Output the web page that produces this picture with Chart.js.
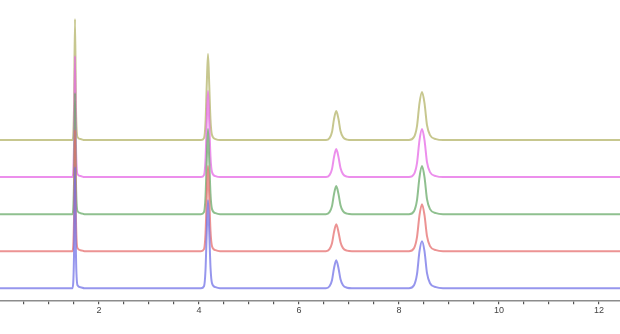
<!DOCTYPE html>
<html>
<head>
<meta charset="utf-8">
<script src="https://cdn.jsdelivr.net/npm/chart.js@4/dist/chart.umd.min.js"></script>
<style>
  html, body { margin: 0; padding: 0; background: #fff; }
  #chart { display: block; }
</style>
</head>
<body>
<canvas id="chart" width="620" height="334"></canvas>
<script>
// retention time (min), shared by all traces
const times = [
    0.02,
    1.47, 1.50, 1.52, 1.54, 1.57, 1.63, 1.71,
    4.04, 4.10, 4.13, 4.155, 4.18, 4.205, 4.23, 4.26, 4.33, 4.42,
    6.54, 6.61, 6.66, 6.70, 6.745, 6.79, 6.83, 6.88, 6.96, 7.06,
    8.20, 8.30, 8.36, 8.41, 8.46, 8.51, 8.56, 8.62, 8.74, 8.88,
    12.42
];

// signal of each trace above its own baseline
const trace1 = [0, 0, 32, 121, 32, 3, 1, 0, 0, 2, 18, 56, 88, 56, 21, 5, 1, 0, 0, 2, 8, 20, 28, 20, 9, 3, 0.5, 0, 0, 3, 14, 37, 47, 37, 15, 5, 1, 0, 0];
const trace2 = [0, 0, 31, 121, 31, 3, 1, 0, 0, 2, 17, 54, 85, 54, 20, 5, 1, 0, 0, 2, 8, 19, 27, 19, 9, 3, 0.5, 0, 0, 3, 14, 36, 47, 36, 15, 5, 1, 0, 0];
const trace3 = [0, 0, 31, 121, 31, 3, 1, 0, 0, 2, 17, 54, 85, 54, 20, 5, 1, 0, 0, 2, 8, 20, 28, 20, 9, 3, 0.5, 0, 0, 3, 14, 37, 48, 37, 15, 5, 1, 0, 0];
const trace4 = [0, 0, 31, 121, 31, 3, 1, 0, 0, 2, 17, 55, 86, 55, 20, 5, 1, 0, 0, 2, 8, 20, 28, 20, 9, 3, 0.5, 0, 0, 3, 14, 37, 48, 37, 15, 5, 1, 0, 0];
const trace5 = [0, 0, 31, 121, 31, 3, 1, 0, 0, 2, 17, 55, 86, 55, 20, 5, 1, 0, 0, 2, 8, 21, 29, 21, 9, 3, 0.5, 0, 0, 3, 14, 37, 48, 37, 15, 5, 1, 0, 0];

// vertical stacking offset of each trace
const offsets = [13, 50, 87, 124, 161];

// x axis ticks: minor every 0.5, labels on even numbers
const tickValues = [];
for (let t = 0.5; t <= 12; t += 0.5) tickValues.push(t);
const tickLabels = [2, 4, 6, 8, 10, 12];

const colors = [
    "rgba(110, 110, 230, 0.72)",  // blue
    "rgba(228, 105, 105, 0.72)",  // red
    "rgba(100, 168, 100, 0.72)",  // green
    "rgba(228, 100, 228, 0.72)",  // pink
    "rgba(178, 178, 100, 0.72)"   // olive
];

const traces = [trace1, trace2, trace3, trace4, trace5];

const datasets = traces.map((tr, i) => ({
    data: tr.map((v, j) => ({ x: times[j], y: v + offsets[i] })),
    borderColor: colors[i],
    borderWidth: 2,
    pointRadius: 0,
    cubicInterpolationMode: "monotone",
    fill: false
}));

new Chart(document.getElementById("chart").getContext("2d"), {
    type: "line",
    data: { datasets: datasets },
    options: {
        responsive: false,
        animation: false,
        devicePixelRatio: 1,
        layout: { padding: { top: 0, left: 0, right: 0, bottom: 17 } },
        plugins: { legend: { display: false }, tooltip: { enabled: false } },
        scales: {
            x: {
                type: "linear",
                min: 0.02,
                max: 12.42,
                afterBuildTicks: (axis) => {
                    axis.ticks = tickValues.map(v => ({ value: v }));
                },
                border: { display: true, color: "#8c8c8c", width: 1.6 },
                grid: {
                    drawOnChartArea: false,
                    drawTicks: true,
                    tickLength: 3,
                    lineWidth: 1.2,
                    color: "#555"
                },
                ticks: {
                    autoSkip: false,
                    maxRotation: 0,
                    padding: 1,
                    color: "#444",
                    font: { family: "Liberation Sans, Arial", size: 9 },
                    callback: (v) => tickLabels.includes(v) ? String(v) : ""
                }
            },
            y: {
                display: false,
                min: 0,
                max: 301
            }
        }
    }
});
</script>
</body>
</html>
